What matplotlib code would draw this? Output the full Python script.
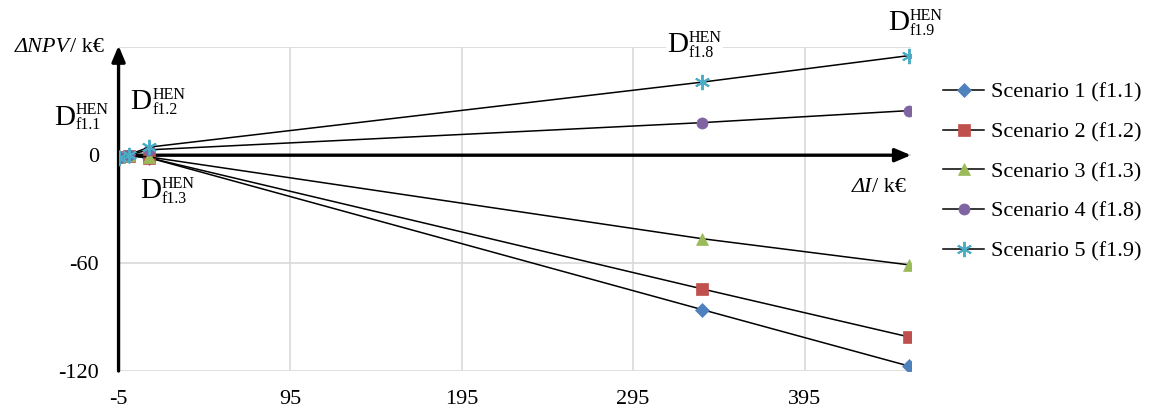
import matplotlib
matplotlib.use("Agg")
import matplotlib.pyplot as plt
from matplotlib.offsetbox import TextArea, HPacker, VPacker, AnnotationBbox

plt.rcParams['font.family'] = ['Liberation Serif', 'DejaVu Serif']

# investment difference of each design (k€) and NPV difference per scenario (k€)
designs = ['f1.1', 'f1.2', 'f1.3', 'f1.8', 'f1.9']
delta_inv = [-5, 1, 13, 335, 456]
npv_s1 = [-1.0, -0.3, -1.5, -85.8, -117.3]
npv_s2 = [-0.8, -0.2, -1.5, -74.3, -101.1]
npv_s3 = [-1.0, -0.1, -1.0, -46.4, -61.0]
npv_s4 = [-1.5, 0.2, 3.0, 18.1, 24.8]
npv_s5 = [-1.8, 0.3, 4.5, 40.6, 55.4]
scenario_names = ['Scenario 1 (f1.1)', 'Scenario 2 (f1.2)', 'Scenario 3 (f1.3)',
                  'Scenario 4 (f1.8)', 'Scenario 5 (f1.9)']
xticks = [-5, 95, 195, 295, 395]
yticks = [-120, -60, 0, 60]

colors = ['#4F81BD', '#C0504D', '#9BBB59', '#8064A2', '#4BACC6']
markers = ['D', 's', '^', 'o', (6, 2, 0)]
msizes = [7.5, 8.5, 9, 8, 11]

fig = plt.figure(figsize=(11.51, 4.12), dpi=100)
ax = fig.add_axes([0.1030, 0.0995, 0.7915 - 0.1030, 0.8852 - 0.0995])

series = [npv_s1, npv_s2, npv_s3, npv_s4, npv_s5]
for vals, name, c, m, ms in zip(series, scenario_names, colors, markers, msizes):
    ax.plot(delta_inv, vals, color='black', lw=1.1, marker=m, ms=ms,
            mfc=c, mec=c, mew=1.4 if m == (6, 2, 0) else 0.5, label=name, zorder=4)

ax.set_xlim(-5, 457)
ax.set_ylim(-120, 60)
ax.set_xticks(xticks)
ax.set_yticks(yticks)
ax.set_xticklabels([str(t) for t in xticks])
ax.set_yticklabels([str(t) for t in yticks[:-1]] + [''])
ax.tick_params(length=0, labelsize=16, pad=14)
ax.grid(True, color='#D9D9D9', lw=1.2, zorder=0)
ax.set_axisbelow(True)
for s in ax.spines.values():
    s.set_visible(False)

# axis arrows
arrow = dict(arrowstyle='-|>,head_length=0.95,head_width=0.4', color='black',
             lw=2.4, shrinkA=0, shrinkB=0)
ax.annotate('', xy=(1.0, 0), xytext=(0.0, 0),
            xycoords=('axes fraction', 'data'), textcoords=('axes fraction', 'data'),
            arrowprops=arrow, zorder=3)
ax.annotate('', xy=(-5, 1.005), xytext=(-5, 0.0),
            xycoords=('data', 'axes fraction'), textcoords=('data', 'axes fraction'),
            arrowprops=arrow, zorder=3)


def axis_title(x, y, sym):
    # italic symbol followed by an upright unit
    unit = ax.text(x, y, '/ k€', transform=ax.transAxes, ha='right', va='center',
                   fontsize=16)
    ax.annotate(sym, xy=(0, 0), xycoords=unit, ha='right', va='bottom',
                fontsize=16, style='italic')


axis_title(-0.019, 1.0, 'ΔNPV')
axis_title(0.994, 0.568, 'ΔI')

# design labels: D with HEN superscript and design subscript
label_offsets = [(-27, 27), (21, 38), (13, -26), (-5.4, 79), (4.3, 95)]
for d, xv, off in zip(designs, delta_inv, label_offsets):
    big = TextArea('D', textprops=dict(fontsize=21))
    sup = TextArea('HEN', textprops=dict(fontsize=11.5))
    sub = TextArea(d, textprops=dict(fontsize=11.5))
    stack = VPacker(children=[sup, sub], align='left', pad=0, sep=-1)
    box = HPacker(children=[big, stack], align='center', pad=0, sep=0.5)
    ab = AnnotationBbox(box, (xv, 0), xybox=off, boxcoords='offset points',
                        box_alignment=(0.5, 0.5), frameon=True, pad=0.1,
                        bboxprops=dict(fc='white', ec='none'), zorder=5)
    ax.add_artist(ab)

fig.legend(loc='center left', bbox_to_anchor=(943 / 1151, 0.583), frameon=False,
           fontsize=16, handlelength=1.85, handletextpad=0.3, labelspacing=0.86,
           borderpad=0, borderaxespad=0, numpoints=1)

fig.savefig('out.png', dpi=100)
